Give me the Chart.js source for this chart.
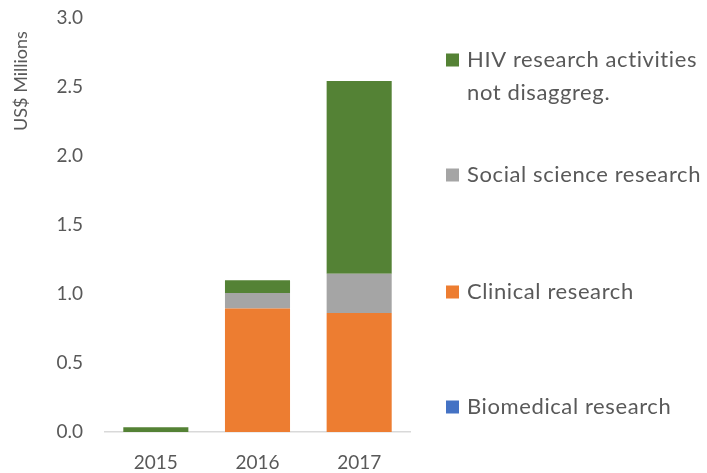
<!DOCTYPE html>
<html lang="en">
<head>
    <meta charset="UTF-8">
    <title>HIV research spending</title>
    <script src="https://cdn.jsdelivr.net/npm/chart.js"></script>
    <style>
        html, body { margin: 0; padding: 0; background: #fff; }
        #wrap { width: 707px; height: 473px; position: relative; }
    </style>
</head>
<body>
<div id="wrap"><canvas id="chart"></canvas></div>
<script>
    // data (US$ millions)
    const years = ["2015", "2016", "2017"];
    const biomedical = [0, 0, 0];
    const clinical = [0, 0.895, 0.862];
    const socialScience = [0, 0.112, 0.285];
    const hivNotDisaggreg = [0.035, 0.092, 1.396];
    const yTicks = [0, 0.5, 1.0, 1.5, 2.0, 2.5, 3.0];
    const yTitle = "US$ Millions";

    const textColor = "#595959";
    const fontFamily = "Lato, 'Open Sans', sans-serif";

    // legend labels, drawn at the right like the Excel original
    const legendItems = [
        { lines: ["HIV research activities", "not disaggreg."], color: "#548235", y: 60 },
        { lines: ["Social science research"], color: "#a5a5a5", y: 175 },
        { lines: ["Clinical research"], color: "#ed7d31", y: 292 },
        { lines: ["Biomedical research"], color: "#4472c4", y: 407 }
    ];

    const sideLegend = {
        id: "sideLegend",
        afterDraw(chart) {
            const ctx = chart.ctx;
            ctx.save();
            ctx.font = "22px " + fontFamily;
            ctx.letterSpacing = "0.6px";
            ctx.textBaseline = "middle";
            ctx.textAlign = "left";
            legendItems.forEach(item => {
                ctx.fillStyle = item.color;
                ctx.fillRect(446, item.y - 6.5, 13, 13);
                ctx.fillStyle = textColor;
                item.lines.forEach((line, i) => {
                    ctx.fillText(line, 467, item.y + i * 33);
                });
            });
            // y axis title, top-aligned
            ctx.letterSpacing = "0px";
            ctx.font = "18px " + fontFamily;
            ctx.translate(21, 81);
            ctx.rotate(-Math.PI / 2);
            ctx.textAlign = "center";
            ctx.fillText(yTitle, 0, 0);
            ctx.restore();
        }
    };

    const ctx = document.getElementById("chart").getContext("2d");
    new Chart(ctx, {
        type: "bar",
        data: {
            labels: years,
            datasets: [
                { label: "Biomedical research", data: biomedical, backgroundColor: "#4472c4" },
                { label: "Clinical research", data: clinical, backgroundColor: "#ed7d31" },
                { label: "Social science research", data: socialScience, backgroundColor: "#a5a5a5" },
                { label: "HIV research activities not disaggreg.", data: hivNotDisaggreg, backgroundColor: "#548235" }
            ]
        },
        options: {
            responsive: true,
            maintainAspectRatio: false,
            animation: false,
            layout: { padding: { top: 18, right: 297, bottom: 0, left: 0 } },
            datasets: { bar: { categoryPercentage: 1, barPercentage: 0.64 } },
            plugins: {
                legend: { display: false },
                tooltip: { enabled: false }
            },
            scales: {
                x: {
                    stacked: true,
                    grid: { display: false, drawTicks: false },
                    border: { display: true, color: "#d9d9d9", width: 1.5 },
                    ticks: { color: textColor, font: { family: fontFamily, size: 19 }, padding: 19 },
                    afterFit(scale) { scale.height = 41; }
                },
                y: {
                    stacked: true,
                    min: 0,
                    max: 3,
                    afterBuildTicks(scale) { scale.ticks = yTicks.map(v => ({ value: v })); },
                    grid: { display: false, drawTicks: false },
                    border: { display: false },
                    ticks: {
                        color: textColor,
                        font: { family: fontFamily, size: 19 },
                        padding: 22,
                        callback: v => v.toFixed(1)
                    },
                    afterFit(scale) {
                        scale.width = 105;
                        scale.paddingTop = 0;
                        scale.paddingBottom = 0;
                    }
                }
            }
        },
        plugins: [sideLegend]
    });
</script>
</body>
</html>
